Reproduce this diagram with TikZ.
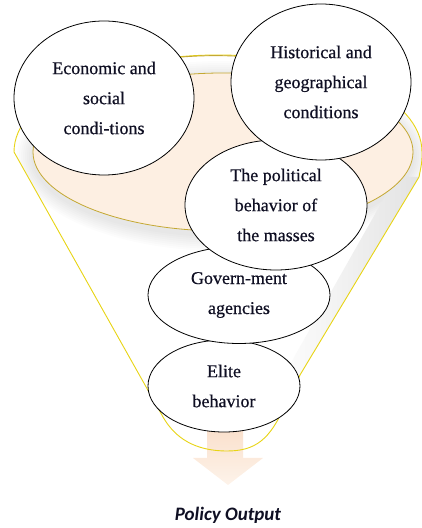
\documentclass[tikz,border=0pt]{standalone}
\usepackage{fontspec}
\setmainfont{Liberation Serif}
\newfontfamily\bubfont{Liberation Serif}[FakeBold=0.5]
\newfontfamily\carl{Carlito}
\usetikzlibrary{shapes.geometric}
\definecolor{beige}{RGB}{253,239,226}
\definecolor{rimgold}{RGB}{196,168,50}
\definecolor{funyel}{RGB}{232,212,20}
\definecolor{arrowtop}{RGB}{250,224,204}
\definecolor{arrowbot}{RGB}{253,243,234}
\definecolor{txt}{RGB}{15,15,35}
\tikzset{
  bubble/.style={ellipse, draw=black, line width=0.8pt, fill=white, inner sep=0pt,
    align=center, text=txt, font=\bubfont\fontsize{18}{30}\selectfont},
  funnelline/.style={draw=funyel, line width=0.9pt},
}
\begin{document}
\begin{tikzpicture}[x=1pt,y=1pt]
\useasboundingbox (0,0) rectangle (422,528);
% funnel body
\fill[white] (14,376) arc[start angle=180,end angle=0,x radius=204,y radius=97]
  .. controls (422,366) .. (419,351) -- (300,153) -- (285,123)
  .. controls (270,88) and (255,77) .. (227,77)
  .. controls (195,77) and (175,90) .. (163,111) -- cycle;
\begin{scope}
  \clip (14,376) arc[start angle=180,end angle=0,x radius=204,y radius=97]
  .. controls (422,366) .. (419,351) -- (300,153) -- (285,123)
  .. controls (270,88) and (255,77) .. (227,77)
  .. controls (195,77) and (175,90) .. (163,111) -- cycle;
  \foreach \i in {1,...,8}
    \fill[black, opacity=0.013] (223,372) ellipse [x radius={190+2*\i}, y radius={79+2*\i}];
  \shade[left color=white, right color=black!11]
    (419,351) -- (300,153) -- (285,123) -- (270,123) -- (288,160) -- (396,351) -- cycle;
\end{scope}
% beige inner ellipse
\filldraw[fill=beige, draw=rimgold, line width=0.8pt] (223,376) ellipse [x radius=190, y radius=79];
% output arrow
\shade[top color=arrowtop, bottom color=arrowbot]
  (207,100) -- (243,100) -- (243,70) -- (263,70) -- (228,43) -- (193,70) -- (207,70) -- cycle;
% funnel outline
\draw[funnelline] (14,376) arc[start angle=180,end angle=0,x radius=204,y radius=97]
  .. controls (422,366) .. (419,351) -- (300,153) -- (285,123)
  .. controls (270,88) and (255,77) .. (227,77)
  .. controls (195,77) and (175,90) .. (163,111) -- cycle;
\draw[rimgold, line width=0.9pt] (120,461) arc[start angle=118,end angle=62,x radius=204,y radius=97];
% bubbles
\node[bubble, minimum width=152pt, minimum height=92pt] (elite) at (224,142) {Elite\\behavior};
\node[bubble, minimum width=182pt, minimum height=97pt] (gov) at (239,233) {Govern-ment\\agencies};
\node[bubble, minimum width=182pt, minimum height=130pt] (pol) at (276,323) {The political\\behavior of\\the masses};
\node[bubble, minimum width=180pt, minimum height=156pt] (hist) at (321,446) {Historical and\\geographical\\conditions};
\node[bubble, minimum width=180pt, minimum height=154pt] (econ) at (104,430) {Economic and\\social\\condi-tions};
% output label
\node[anchor=base, text=txt, font=\carl\bfseries\itshape\fontsize{19}{22}\selectfont] (out) at (228,8) {Policy Output};
\end{tikzpicture}
\end{document}
